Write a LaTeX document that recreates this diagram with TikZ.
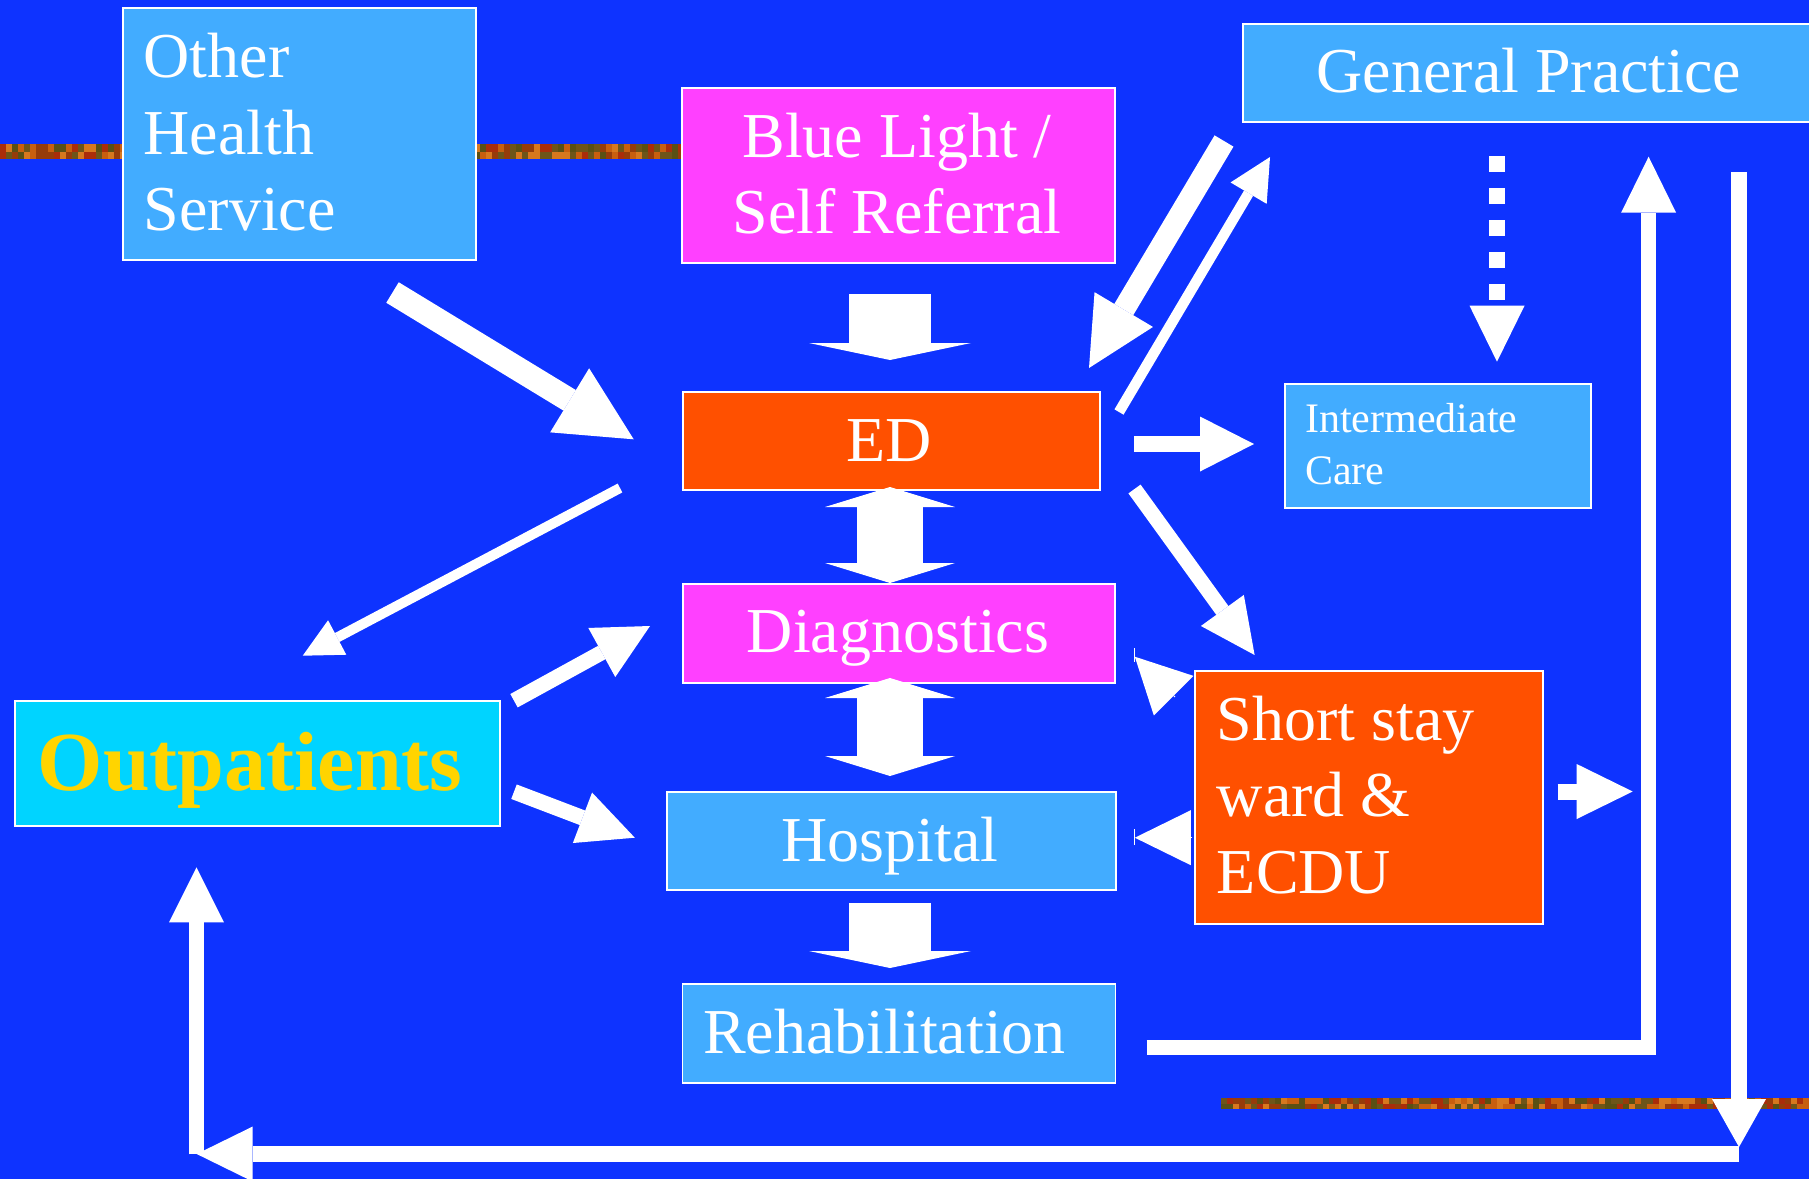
\documentclass[tikz,border=0pt]{standalone}
\usepackage{fontspec}
\setmainfont{Liberation Serif}
\usetikzlibrary{arrows.meta}

\definecolor{bg}{RGB}{14,51,255}
\definecolor{lightbox}{RGB}{66,172,255}
\definecolor{pinkbox}{RGB}{255,64,255}
\definecolor{orangebox}{RGB}{255,80,0}
\definecolor{cyanbox}{RGB}{0,212,255}
\definecolor{optext}{RGB}{255,212,0}
% colours of the mottled ribbons
\definecolor{st1}{RGB}{150,60,10}
\definecolor{st2}{RGB}{200,95,15}
\definecolor{st3}{RGB}{110,85,25}
\definecolor{st4}{RGB}{170,45,10}
\definecolor{st5}{RGB}{90,80,20}
\definecolor{st6}{RGB}{215,120,30}

\begin{document}
\begin{tikzpicture}[x=1pt,y=-1pt,
  box/.style={draw=white, line width=1.5pt, inner sep=0pt, anchor=north west},
  lbl/.style={text=white, inner sep=0pt, font=\fontsize{64}{77}\selectfont},
  small/.style={text=white, inner sep=0pt, font=\fontsize{42}{51}\selectfont},
  flow/.style={draw=white, line cap=butt, line join=miter},
  onehead/.style 2 args={arrows={-{Triangle[width=#1pt,length=#2pt,line width=0pt]}}},
  twohead/.style 2 args={arrows={{Triangle[width=#1pt,length=#2pt,line width=0pt]}-{Triangle[width=#1pt,length=#2pt,line width=0pt]}}},
]
\useasboundingbox (0,0) rectangle (1809,1179);
\fill[bg] (0,0) rectangle (1809,1179);

% mottled ribbons
\pgfmathsetseed{11}
\foreach \i in {0,...,113} {
  \pgfmathrandominteger{\ca}{1}{6}
  \pgfmathrandominteger{\cb}{1}{6}
  \fill[st\ca] (\i*6,144) rectangle ++(6,7.5);
  \fill[st\cb] (\i*6,151.5) rectangle ++(6,7.5);
}
\foreach \i in {0,...,97} {
  \pgfmathrandominteger{\ca}{1}{6}
  \pgfmathrandominteger{\cb}{1}{6}
  \fill[st\ca] (1221+\i*6,1098) rectangle ++(6,5.5);
  \fill[st\cb] (1221+\i*6,1103.5) rectangle ++(6,5.5);
}

% boxes
\node[box, fill=lightbox, minimum width=353pt, minimum height=252pt] (oth) at (122,7) {};
\node[box, fill=pinkbox, minimum width=433pt, minimum height=175pt] (blue) at (681,87) {};
\node[box, fill=lightbox, minimum width=573pt, minimum height=98pt] (gp) at (1242,23) {};
\node[box, fill=orangebox, minimum width=417pt, minimum height=98pt] (ed) at (682,391) {};
\node[box, fill=lightbox, minimum width=306pt, minimum height=124pt] (inter) at (1284,383) {};
\node[box, fill=pinkbox, minimum width=432pt, minimum height=99pt] (diag) at (682,583) {};
\node[box, fill=lightbox, minimum width=449pt, minimum height=98pt] (hosp) at (666,791) {};
\node[box, fill=lightbox, minimum width=433pt, minimum height=99pt] (rehab) at (681.5,983) {};
\node[box, fill=cyanbox, minimum width=485pt, minimum height=125pt] (outp) at (14,700) {};
\node[box, fill=orangebox, minimum width=348pt, minimum height=253pt] (short) at (1194,670) {};

% labels
\node[lbl, anchor=base west] (oth1) at (143.5,77) {Other};
\node[lbl, anchor=base west] (oth2) at (143.5,154) {Health};
\node[lbl, anchor=base west] (oth3) at (143.5,230) {Service};
\node[lbl, anchor=base] (blue1) at (897,157) {Blue Light /};
\node[lbl, anchor=base] (blue2) at (897,233) {Self Referral};
\node[lbl, anchor=base] (gpt) at (1529,92) {General Practice};
\node[lbl, anchor=base] (edt) at (889,461) {ED};
\node[small, anchor=base west] (int1) at (1305,432.7) {Intermediate};
\node[small, anchor=base west] (int2) at (1305,484) {Care};
\node[lbl, anchor=base] (diagt) at (898,652) {Diagnostics};
\node[lbl, anchor=base] (hospt) at (890,861) {Hospital};
\node[lbl, anchor=base west] (rehabt) at (703,1053) {Rehabilitation};
\node[inner sep=0pt, anchor=base west, text=optext, font=\fontsize{84}{100}\selectfont\bfseries] (outpt) at (37.5,790.7) {Outpatients};
\node[lbl, anchor=base west] (sh1) at (1216.7,740) {Short stay};
\node[lbl, anchor=base west] (sh2) at (1216.7,816.7) {ward \&};
\node[lbl, anchor=base west] (sh3) at (1216.7,893.3) {ECDU};

% connector end points
\coordinate (bl-out) at (890,294);
\coordinate (ed-in-t) at (890,360);
\coordinate (ed-out-s) at (890,487);
\coordinate (dg-in-t) at (890,583);
\coordinate (dg-out-s) at (890,678);
\coordinate (hs-in-t) at (890,776);
\coordinate (hs-out-s) at (890,903);
\coordinate (rh-in-t) at (890,968);
\coordinate (oh-out) at (392.5,292.5);
\coordinate (ed-in-l) at (633.7,439.3);
\coordinate (gp-out-a) at (1224,141);
\coordinate (ed-in-r) at (1089,368);
\coordinate (ed-out-a) at (1119,412);
\coordinate (gp-in-a) at (1270,157);
\coordinate (ed-out-b) at (1134,444);
\coordinate (ic-in) at (1254,444);
\coordinate (ed-out-c) at (1134.5,489);
\coordinate (ss-in) at (1254.6,655);
\coordinate (ed-out-d) at (620,488);
\coordinate (op-in-a) at (302.7,655.7);
\coordinate (op-out-a) at (514,700.7);
\coordinate (dg-in-l) at (650,626);
\coordinate (op-out-b) at (514,791.7);
\coordinate (hs-in-l) at (634.8,837.7);
\coordinate (ss-out-a) at (1175,697);
\coordinate (dg-in-r) at (1134.8,656.7);
\coordinate (ss-out-b) at (1192,837.7);
\coordinate (hs-in-r) at (1134.8,837.7);
\coordinate (ss-out-c) at (1557.6,791.5);
\coordinate (ret-in) at (1632.7,791.5);
\coordinate (rh-out) at (1146.5,1047.7);
\coordinate (ret-bend) at (1648.6,1047.7);
\coordinate (gp-in-b) at (1648.6,156.7);
\coordinate (gp-out-b) at (1739,172);
\coordinate (down-end) at (1739,1147);
\coordinate (base-r) at (1739,1154);
\coordinate (base-l) at (196.7,1154);
\coordinate (up-start) at (196.5,1154.3);
\coordinate (op-in-b) at (196.5,867.3);
\coordinate (gp-out-c) at (1497,156);
\coordinate (ic-in-t) at (1497,361.7);

% broad block arrows down the centre column
\draw[flow, line width=82pt, onehead={162}{17}] (bl-out) -- (ed-in-t);
\draw[flow, line width=66pt, twohead={130}{20}] (ed-out-s) -- (dg-in-t);
\draw[flow, line width=66pt, twohead={130}{20}] (dg-out-s) -- (hs-in-t);
\draw[flow, line width=82pt, onehead={162}{17}] (hs-out-s) -- (rh-in-t);

% diagonal and side arrows
\draw[flow, line width=24pt, onehead={75}{75}] (oh-out) -- (ed-in-l);
\draw[flow, line width=22pt, onehead={68}{68}] (gp-out-a) -- (ed-in-r);
\draw[flow, line width=10.5pt, onehead={42}{42}] (ed-out-a) -- (gp-in-a);
\draw[flow, line width=16pt, onehead={55}{54}] (ed-out-b) -- (ic-in);
\draw[flow, line width=15pt, onehead={53}{55}] (ed-out-c) -- (ss-in);
\draw[flow, line width=10pt, onehead={39}{39}] (ed-out-d) -- (op-in-a);
\draw[flow, line width=15.3pt, onehead={56}{55}] (op-out-a) -- (dg-in-l);
\draw[flow, line width=15.5pt, onehead={54}{56}] (op-out-b) -- (hs-in-l);
\draw[flow, line width=1pt, onehead={56}{55}] (ss-out-a) -- (dg-in-r);
\draw[flow, line width=1pt, onehead={55}{56}] (ss-out-b) -- (hs-in-r);
\draw[white, line width=0.8pt] (1134.8,648) -- (1134.8,662);
\draw[white, line width=0.8pt] (1134.8,829) -- (1134.8,845);
\draw[flow, line width=16pt, onehead={55}{56}] (ss-out-c) -- (ret-in);

% return loops along the right and bottom edges
\draw[flow, line width=15.5pt, onehead={55}{56}] (rh-out) -- (ret-bend) -- (gp-in-b);
\draw[flow, line width=15.5pt, onehead={54}{48}] (gp-out-b) -- (down-end);
\draw[flow, line width=16pt, onehead={55}{56}] (base-r) -- (base-l);
\draw[flow, line width=15.6pt, onehead={55}{55}] (up-start) -- (op-in-b);

% dashed link to intermediate care
\draw[flow, line width=16pt, dash pattern=on 16pt off 16pt, onehead={55}{56}] (gp-out-c) -- (ic-in-t);
\end{tikzpicture}
\end{document}
